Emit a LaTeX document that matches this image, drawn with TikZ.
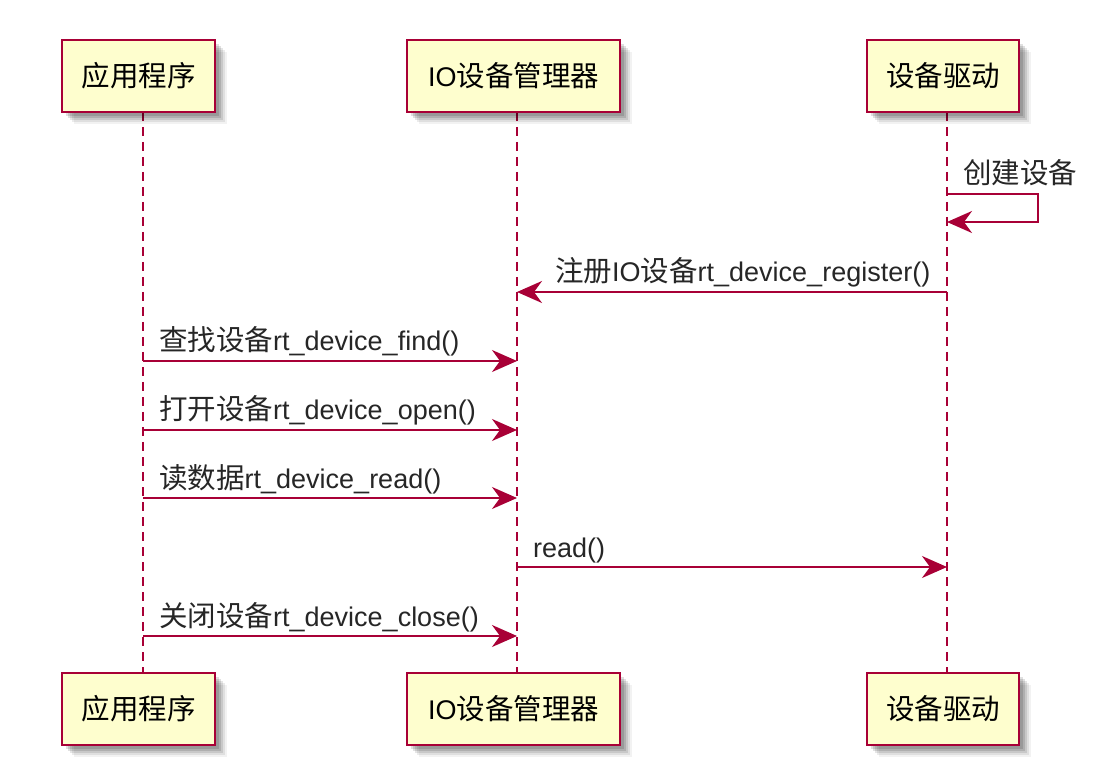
\documentclass[tikz,border=0pt]{standalone}
\usepackage{fontspec}
\setmainfont{Liberation Sans}
\newfontfamily\cjk{Noto Sans CJK SC}
\usetikzlibrary{arrows.meta}
\definecolor{pline}{HTML}{A80036}
\definecolor{pfill}{HTML}{FEFECE}
\newcommand{\zh}[1]{{\cjk\fontsize{28.5}{30}\selectfont #1}}
\begin{document}
\begin{tikzpicture}[x=1pt,y=-1pt,
  font=\fontsize{27}{30}\selectfont,
  part/.style={draw=pline, fill=pfill, line width=2.6pt, minimum height=72pt, inner sep=0pt,
    preaction={fill=black,opacity=0.12,transform canvas={xshift=4pt,yshift=-4pt}},
    preaction={fill=black,opacity=0.12,transform canvas={xshift=6pt,yshift=-6pt}},
    preaction={fill=black,opacity=0.10,transform canvas={xshift=8pt,yshift=-8pt}},
    preaction={fill=black,opacity=0.08,transform canvas={xshift=10pt,yshift=-10pt}},
    preaction={fill=black,opacity=0.05,transform canvas={xshift=12pt,yshift=-12pt}}},
  msg/.style={draw=pline, line width=1.9pt, -{Stealth[length=25pt,width=22pt,inset=8pt]}},
  life/.style={draw=pline, line width=1.7pt, dash pattern=on 9pt off 6pt},
  lbl/.style={anchor=base west, inner sep=0pt, text=black!85}]
\useasboundingbox (0,0) rectangle (1114,783);
\fill[white] (0,0) rectangle (1114,783);

% lifeline coordinates
\coordinate (a0) at (143,112); \coordinate (a9) at (143,673);
\coordinate (b0) at (517,112); \coordinate (b9) at (517,673);
\coordinate (c0) at (947,112); \coordinate (c9) at (947,673);
\draw[life] (a0) -- (a9);
\draw[life] (b0) -- (b9);
\draw[life] (c0) -- (c9);

% participants
\node[part, minimum width=153pt] (A) at (138.5,76) {\zh{应用程序}};
\node[part, minimum width=213pt] (B) at (513.5,76) {IO\zh{设备管理器}};
\node[part, minimum width=152pt] (C) at (943,76) {\zh{设备驱动}};
\node[part, minimum width=153pt] (A2) at (138.5,709) {\zh{应用程序}};
\node[part, minimum width=213pt] (B2) at (513.5,709) {IO\zh{设备管理器}};
\node[part, minimum width=152pt] (C2) at (943,709) {\zh{设备驱动}};

% self message
\coordinate (s1) at (947,194); \coordinate (s2) at (1038,194);
\coordinate (s3) at (1038,222); \coordinate (s4) at (947,222);
\draw[msg] (s1) -- (s2) -- (s3) -- (s4);
\node[lbl] (l0) at (963,184) {\zh{创建设备}};

% register
\coordinate (r1) at (947,292); \coordinate (r2) at (517,292);
\draw[msg] (r1) -- (r2);
\node[lbl] (l1) at (555,282) {\zh{注册}IO\zh{设备}rt\_device\_register()};

% find
\coordinate (f1) at (143,361); \coordinate (f2) at (517,361);
\draw[msg] (f1) -- (f2);
\node[lbl] (l2) at (159,351) {\zh{查找设备}rt\_device\_find()};

% open
\coordinate (o1) at (143,430); \coordinate (o2) at (517,430);
\draw[msg] (o1) -- (o2);
\node[lbl] (l3) at (159,420) {\zh{打开设备}rt\_device\_open()};

% read
\coordinate (d1) at (143,498); \coordinate (d2) at (517,498);
\draw[msg] (d1) -- (d2);
\node[lbl] (l4) at (159,488) {\zh{读数据}rt\_device\_read()};

% read()
\coordinate (e1) at (517,567); \coordinate (e2) at (947,567);
\draw[msg] (e1) -- (e2);
\node[lbl] (l5) at (533,557) {read()};

% close
\coordinate (g1) at (143,636); \coordinate (g2) at (517,636);
\draw[msg] (g1) -- (g2);
\node[lbl] (l6) at (159,626) {\zh{关闭设备}rt\_device\_close()};
\end{tikzpicture}
\end{document}
